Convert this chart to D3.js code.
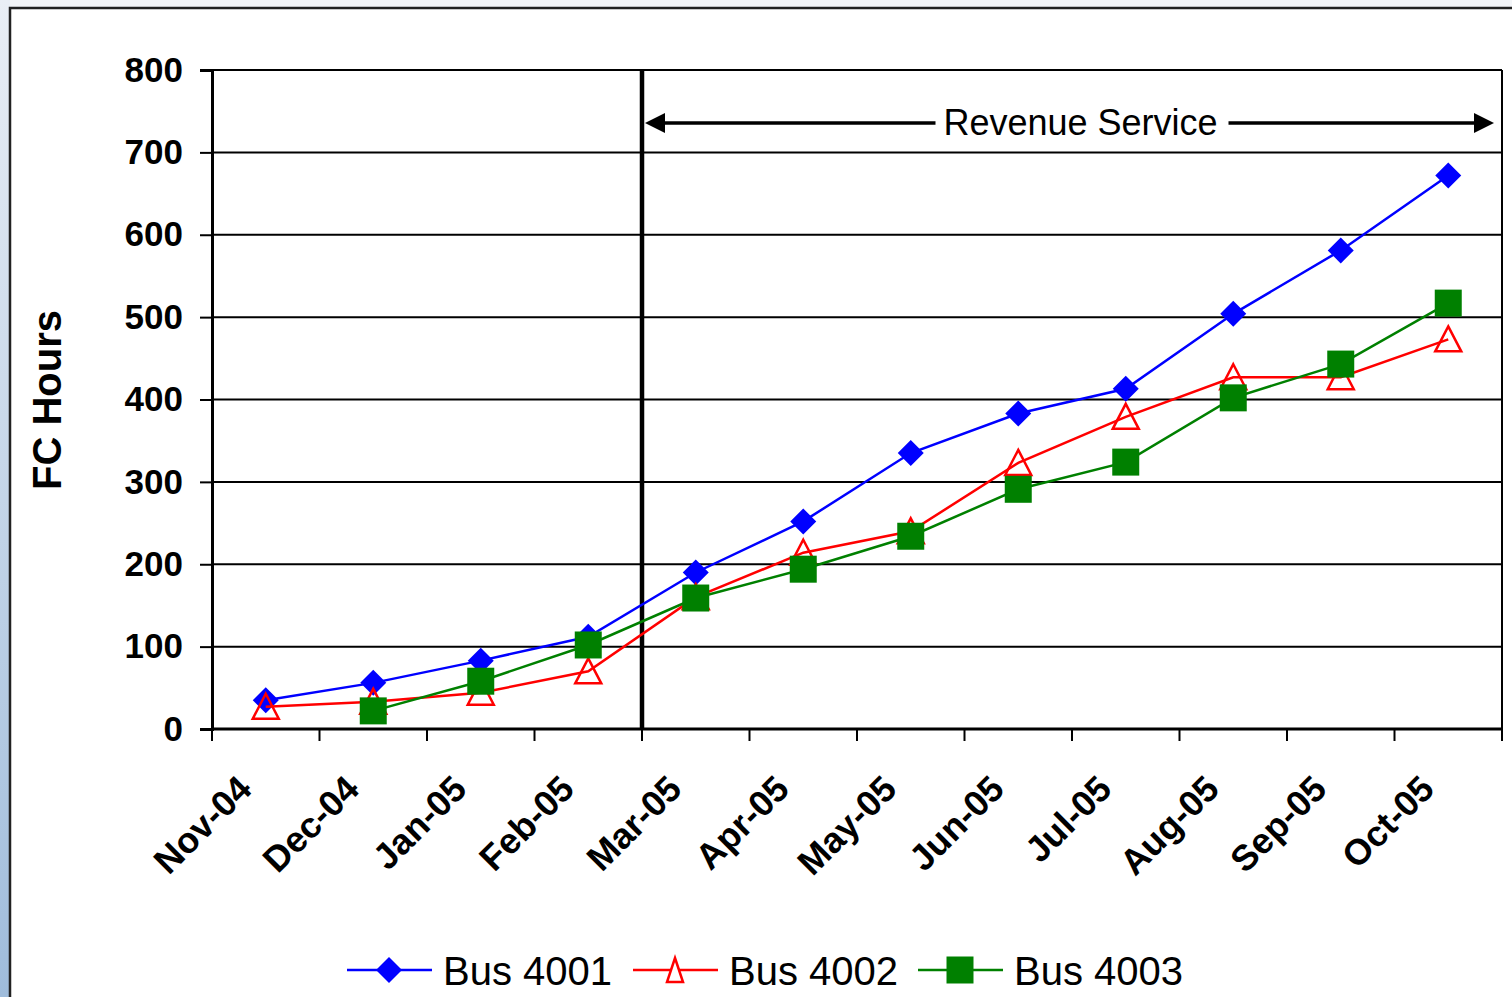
<!DOCTYPE html>
<html>
<head>
<meta charset="utf-8">
<script src="https://cdn.jsdelivr.net/npm/d3@7"></script>
<style>
  html, body { margin: 0; padding: 0; background: #f3f5f8; }
  svg { display: block; font-family: "Liberation Sans", Arial, sans-serif; }
</style>
</head>
<body>
<svg id="chart" width="1512" height="997"></svg>
<script>
const months = ['Nov-04', 'Dec-04', 'Jan-05', 'Feb-05', 'Mar-05', 'Apr-05',
  'May-05', 'Jun-05', 'Jul-05', 'Aug-05', 'Sep-05', 'Oct-05'];
const bus4001 = [35, 56, 83, 112, 190, 252, 335, 383, 413, 504, 581, 672];
const bus4002 = [27, 33, 44, 70, 160, 214, 240, 323, 379, 427, 427, 473];
const bus4003 = [null, 22, 58, 102, 159, 194, 234, 291, 324, 402, 443, 517];
const yTicks = [0, 100, 200, 300, 400, 500, 600, 700, 800];
const serviceStart = 'Mar-05';

const margin = { top: 70, right: 10, bottom: 268, left: 212 };
const svg = d3.select('#chart');
const W = +svg.attr('width'), H = +svg.attr('height');
const width = W - margin.left - margin.right;
const height = H - margin.top - margin.bottom;

// backdrop: grey page, bluish strip on the left, framed chart
const defs = svg.append('defs');
const grad = defs.append('linearGradient').attr('id', 'strip')
    .attr('x1', 0).attr('y1', 0).attr('x2', 0).attr('y2', 1);
grad.append('stop').attr('offset', '0%').attr('stop-color', '#e9eef5');
grad.append('stop').attr('offset', '100%').attr('stop-color', '#9fbcdb');
svg.append('rect').attr('width', W).attr('height', H).attr('fill', '#f3f5f8');
svg.append('rect').attr('x', 0).attr('y', 0).attr('width', 10).attr('height', H).attr('fill', 'url(#strip)');
svg.append('rect').attr('x', 10).attr('y', 8).attr('width', W + 20).attr('height', H + 20)
    .attr('fill', '#fff').attr('stroke', '#222').attr('stroke-width', 2.5);

const g = svg.append('g').attr('transform', `translate(${margin.left},${margin.top})`);

const x = d3.scaleBand().domain(months).range([0, width]).padding(0);
const y = d3.scaleLinear().domain([0, 800]).range([height, 0]);
const cx = m => x(m) + x.bandwidth() / 2;

// gridlines
g.append('g').selectAll('line').data(yTicks.filter(t => t > 0)).join('line')
    .attr('x1', 0).attr('x2', width).attr('y1', d => y(d)).attr('y2', d => y(d))
    .attr('stroke', '#000').attr('stroke-width', 2);
g.append('line').attr('x1', width).attr('x2', width).attr('y1', 0).attr('y2', height)
    .attr('stroke', '#000').attr('stroke-width', 2);

// y axis
const yAxis = g.append('g')
    .call(d3.axisLeft(y).tickValues(yTicks).tickSize(12).tickPadding(17));
yAxis.select('.domain').attr('stroke-width', 3);
yAxis.selectAll('.tick line').attr('stroke-width', 2);
yAxis.selectAll('.tick text').attr('font-size', 35).attr('font-weight', 'bold')
    .attr('fill', '#000').attr('font-family', '"Liberation Sans", Arial, sans-serif');

// x axis: ticks on band edges
const xAxis = g.append('g').attr('transform', `translate(0,${height})`);
xAxis.append('line').attr('x1', 0).attr('x2', width).attr('stroke', '#000').attr('stroke-width', 3);
xAxis.selectAll('line.tk').data(months.map(m => x(m)).concat([width])).join('line')
    .attr('class', 'tk').attr('x1', d => d).attr('x2', d => d).attr('y1', 0).attr('y2', 12)
    .attr('stroke', '#000').attr('stroke-width', 2);
xAxis.selectAll('text').data(months).join('text')
    .attr('transform', d => `translate(${cx(d) - 12},${62}) rotate(-45)`)
    .attr('text-anchor', 'end')
    .attr('font-size', 36).attr('font-weight', 'bold').attr('fill', '#000')
    .text(d => d);

// start of revenue service
g.append('line').attr('x1', x(serviceStart)).attr('x2', x(serviceStart))
    .attr('y1', 0).attr('y2', height).attr('stroke', '#000').attr('stroke-width', 4.5);

// arrow annotation
const ay = 53;
const ax0 = x(serviceStart) + 3, ax1 = width - 8;
g.append('line').attr('x1', ax0 + 15).attr('x2', ax1 - 15).attr('y1', ay).attr('y2', ay)
    .attr('stroke', '#000').attr('stroke-width', 3.5);
g.append('path').attr('d', `M${ax0},${ay} L${ax0 + 20},${ay - 10} L${ax0 + 20},${ay + 10} Z`).attr('fill', '#000');
g.append('path').attr('d', `M${ax1},${ay} L${ax1 - 20},${ay - 10} L${ax1 - 20},${ay + 10} Z`).attr('fill', '#000');
const midX = (ax0 + ax1) / 2 + 11;
g.append('rect').attr('x', midX - 145).attr('y', ay - 20).attr('width', 293).attr('height', 40).attr('fill', '#fff');
g.append('text').attr('x', midX).attr('y', ay + 12).attr('text-anchor', 'middle')
    .attr('font-size', 36).attr('fill', '#000').text('Revenue Service');

// y title
svg.append('text').attr('transform', 'translate(61,400) rotate(-90)')
    .attr('text-anchor', 'middle').attr('font-size', 40).attr('font-weight', 'bold')
    .text('FC Hours');

// series
const diamond = 'M0,-13L13,0L0,13L-13,0Z';
const triangle = 'M0,-13L13,12L-13,12Z';
const square = 'M-13.5,-13.5H13.5V13.5H-13.5Z';
const series = [
  { name: 'Bus 4001', values: bus4001, color: '#0000ff', shape: diamond, fill: true },
  { name: 'Bus 4002', values: bus4002, color: '#ff0000', shape: triangle, fill: false },
  { name: 'Bus 4003', values: bus4003, color: '#008000', shape: square, fill: true },
];

const line = d3.line()
    .defined(d => d.v != null)
    .x(d => cx(d.m)).y(d => y(d.v));

series.forEach(s => {
  const pts = months.map((m, i) => ({ m, v: s.values[i] }));
  g.append('path').datum(pts).attr('d', line)
      .attr('fill', 'none').attr('stroke', s.color).attr('stroke-width', 2.5);
  g.append('g').selectAll('path').data(pts.filter(d => d.v != null)).join('path')
      .attr('transform', d => `translate(${cx(d.m)},${y(d.v)})`)
      .attr('d', s.shape)
      .attr('fill', s.fill ? s.color : 'none')
      .attr('stroke', s.fill ? 'none' : s.color)
      .attr('stroke-width', 2.5);
});

// legend
const legendX = [347, 633, 918];
const ly = 970;
const legShapes = [diamond, 'M0,-12L8,12L-8,12Z', square];
series.forEach((s, i) => {
  const lg = svg.append('g').attr('transform', `translate(${legendX[i]},${ly})`);
  lg.append('line').attr('x1', 0).attr('x2', 85).attr('stroke', s.color).attr('stroke-width', 2.5);
  lg.append('path').attr('transform', 'translate(42,0)').attr('d', legShapes[i])
      .attr('fill', s.fill ? s.color : '#fff')
      .attr('stroke', s.fill ? 'none' : s.color).attr('stroke-width', 2.5);
  lg.append('text').attr('x', 96).attr('y', 15).attr('font-size', 40).attr('fill', '#000').text(s.name);
});
</script>
</body>
</html>
